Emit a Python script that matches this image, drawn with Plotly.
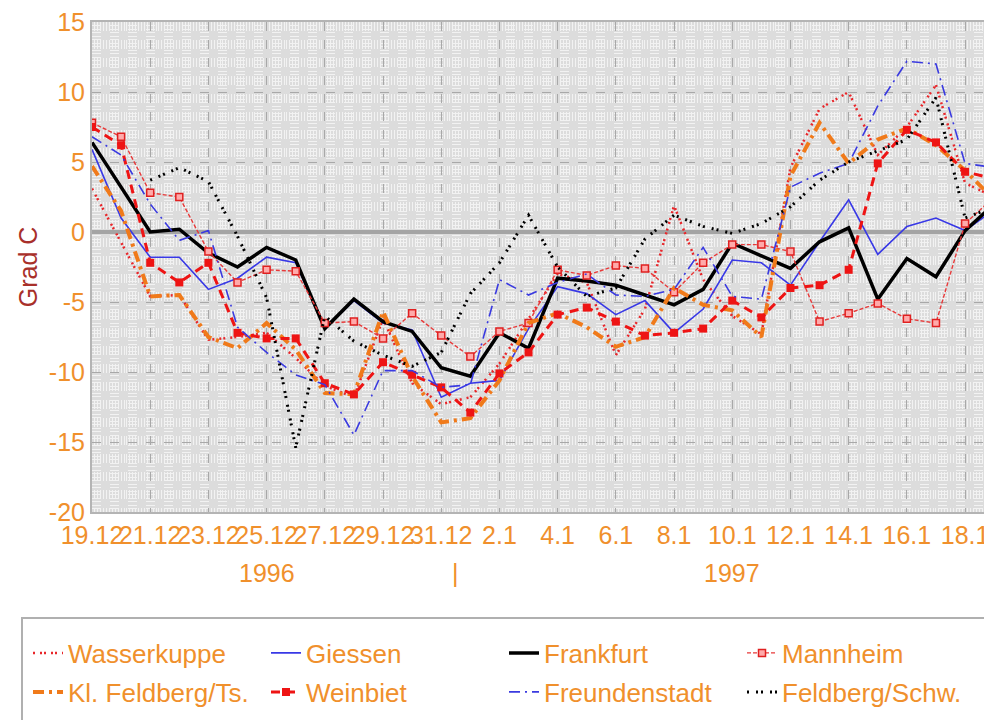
import plotly.graph_objects as go

dates = ["19.12", "20.12", "21.12", "22.12", "23.12", "24.12", "25.12", "26.12",
         "27.12", "28.12", "29.12", "30.12", "31.12", "1.1", "2.1", "3.1",
         "4.1", "5.1", "6.1", "7.1", "8.1", "9.1", "10.1", "11.1",
         "12.1", "13.1", "14.1", "15.1", "16.1", "17.1", "18.1", "19.1"]

wasserkuppe = [3.1, -0.8, -4.6, -4.5, -7.7, -7.5, -7.2, -9.0, -11.0, -11.8, -6.2, -10.8,
               -12.3, -11.8, -9.4, -6.2, -3.0, -3.6, -8.8, -5.5, 1.9, -3.4, -6.0, -7.3,
               4.6, 8.8, 10.0, 5.5, 7.5, 10.5, 3.5, 2.5]
giessen = [5.9, 1.0, -1.8, -1.8, -4.1, -3.3, -1.8, -2.2, -6.9, -4.9, -6.5, -7.0,
           -11.8, -10.8, -10.6, -6.9, -3.9, -4.4, -5.9, -4.9, -7.2, -5.5, -2.0, -2.2,
           -3.8, -0.7, 2.3, -1.6, 0.4, 1.0, 0.1, 1.6]
frankfurt = [6.4, 3.2, 0.0, 0.2, -1.5, -2.5, -1.1, -2.0, -6.9, -4.8, -6.4, -7.1,
             -9.7, -10.3, -7.2, -8.3, -3.3, -3.5, -3.8, -4.5, -5.2, -4.1, -0.8, -1.7,
             -2.6, -0.7, 0.3, -4.8, -1.9, -3.2, 0.1, 2.0]
mannheim = [7.8, 6.8, 2.8, 2.5, -1.4, -3.6, -2.7, -2.8, -6.5, -6.4, -7.6, -5.8,
            -7.4, -8.9, -7.1, -6.5, -2.7, -3.1, -2.4, -2.6, -4.3, -2.2, -0.9, -0.9,
            -1.4, -6.4, -5.8, -5.1, -6.2, -6.5, 0.6, 2.5]
kl_feldberg = [4.7, 1.5, -4.6, -4.5, -7.5, -8.3, -6.5, -8.4, -11.5, -11.6, -5.7, -10.3,
               -13.6, -13.3, -10.6, -6.5, -5.8, -6.8, -8.2, -7.5, -4.0, -5.2, -5.6, -7.5,
               4.0, 7.8, 4.9, 6.6, 7.4, 6.2, 4.4, 2.3]
weinbiet = [7.5, 6.2, -2.2, -3.6, -2.2, -7.2, -7.6, -7.6, -10.8, -11.6, -9.3, -10.2,
            -11.1, -12.9, -10.1, -8.6, -5.9, -5.4, -6.4, -7.4, -7.2, -6.9, -4.9, -6.1,
            -4.0, -3.8, -2.7, 4.9, 7.3, 6.4, 4.3, 3.8]
freundenstadt = [6.8, 5.5, 2.0, -0.6, 0.1, -6.8, -8.6, -10.2, -10.9, -14.5, -9.9, -9.9,
                 -11.1, -10.9, -3.4, -4.5, -3.6, -3.0, -4.5, -4.6, -4.1, -1.1, -4.6, -4.8,
                 3.2, 4.2, 4.9, 9.0, 12.2, 12.0, 4.9, 4.6]
feldberg_schw = [None, None, 3.7, 4.6, 3.6, -0.3, -4.7, -15.4, -6.0, -7.8, -8.8, -9.6,
                 -8.6, -4.4, -2.2, 1.2, -2.5, -4.6, -4.0, -0.5, 1.2, 0.4, -0.1, 0.6,
                 1.8, 3.7, 5.0, 5.8, 6.6, 9.6, 1.0, 1.8]

y_ticks = [-20, -15, -10, -5, 0, 5, 10, 15]
y_ticktext = ["-20", "-15", "-10", "-5", "0", "5", "10", "15"]

ORANGE = "#f0902c"
FONT = "Liberation Sans, Arial, sans-serif"

# plot-area geometry in pixels (used only for placing legend/annotations)
L, R, T, B = 92, 984, 22, 512
PW, PH = R - L, B - T


def px_x(p):
    return (p - L) / PW


def px_y(p):
    return (B - p) / PH


x = list(range(len(dates)))

series = [
    ("Wasserkuppe", wasserkuppe, dict(color="#e8262a", width=2.5, dash="2px,5px,2px,2px"), None, "legend"),
    ("Giessen", giessen, dict(color="#3838e6", width=1.6), None, "legend"),
    ("Frankfurt", frankfurt, dict(color="#000000", width=3.5), None, "legend"),
    ("Mannheim", mannheim, dict(color="#e83a3a", width=1.4, dash="4px,2px"),
     dict(symbol="square", size=7, color="#ffaaaa", line=dict(color="#e02020", width=1.5)), "legend"),
    ("Kl. Feldberg/Ts.", kl_feldberg, dict(color="#f07a1a", width=4, dash="11px,5px,3px,5px"), None, "legend2"),
    ("Weinbiet", weinbiet, dict(color="#ee1414", width=3, dash="9px,6px"),
     dict(symbol="square", size=8, color="#ee1414"), "legend2"),
    ("Freundenstadt", freundenstadt, dict(color="#3a3ae0", width=1.6, dash="11px,5px,2px,5px"), None, "legend2"),
    ("Feldberg/Schw.", feldberg_schw, dict(color="#000000", width=3, dash="2px,7px,2px,3px"), None, "legend2"),
]

fig = go.Figure()
for name, vals, line, marker, leg in series:
    kw = dict(x=x, y=vals, name=name, line=line, connectgaps=False, legend=leg)
    if marker:
        kw["mode"] = "lines+markers"
        kw["marker"] = marker
    else:
        kw["mode"] = "lines"
    fig.add_trace(go.Scatter(**kw))

tick_idx = x[::2]
fig.update_xaxes(
    range=[0, 30.65],
    tickmode="array", tickvals=tick_idx, ticktext=[dates[i] for i in tick_idx],
    tickangle=0, ticks="", tickfont=dict(size=25, color=ORANGE, family=FONT),
    ticklabeloverflow="allow",
    showgrid=True, gridcolor="#a8a8a8", gridwidth=1, griddash="dash",
    minor=dict(dtick=0.1, showgrid=True, gridcolor="#f2f2f2", gridwidth=1),
    showline=True, linecolor="#b4b4b4", linewidth=2, mirror=True,
    zeroline=False,
)
fig.update_yaxes(
    range=[-20, 15],
    tickmode="array", tickvals=y_ticks, ticktext=y_ticktext,
    ticks="", tickfont=dict(size=25, color=ORANGE, family=FONT),
    showgrid=True, gridcolor="#a8a8a8", gridwidth=1, griddash="dash",
    minor=dict(dtick=0.25, showgrid=True, gridcolor="#f2f2f2", gridwidth=1),
    showline=True, linecolor="#b4b4b4", linewidth=2, mirror=True,
    zeroline=True, zerolinecolor="#a4a4a4", zerolinewidth=4,
    title=dict(text="Grad C", font=dict(size=25, color="#a8302a", family=FONT), standoff=4),
)

ann_y = px_y(573)
for xv, txt in [(6, "1996"), (12.5, "|"), (22, "1997")]:
    fig.add_annotation(x=xv, y=ann_y, xref="x", yref="paper", text=txt, showarrow=False,
                       yanchor="middle", xanchor="center",
                       font=dict(size=25, color=ORANGE, family=FONT))

# legend frame
fig.add_shape(type="rect", xref="paper", yref="paper",
              x0=px_x(22), x1=px_x(992), y0=px_y(618), y1=px_y(735),
              line=dict(color="#b0b0b0", width=2), fillcolor="rgba(0,0,0,0)")

leg_common = dict(
    orientation="h", xanchor="left", yanchor="middle",
    borderwidth=0, bgcolor="rgba(0,0,0,0)",
    font=dict(size=26, color=ORANGE, family=FONT),
    entrywidth=193, entrywidthmode="pixels", itemwidth=30,
    traceorder="normal",
)

fig.update_layout(
    width=984, height=720,
    margin=dict(l=L, r=0, t=T, b=720 - B, autoexpand=False),
    paper_bgcolor="white",
    plot_bgcolor="#dcdcdc",
    font=dict(family=FONT, color=ORANGE),
    showlegend=True,
    legend=dict(x=px_x(28), y=px_y(653), **leg_common),
    legend2=dict(x=px_x(28), y=px_y(692), **leg_common),
)

fig.write_html(
    "out.html",
    config={"displayModeBar": False},
    post_script="document.body.style.margin='0px';document.body.style.overflow='hidden';",
)
